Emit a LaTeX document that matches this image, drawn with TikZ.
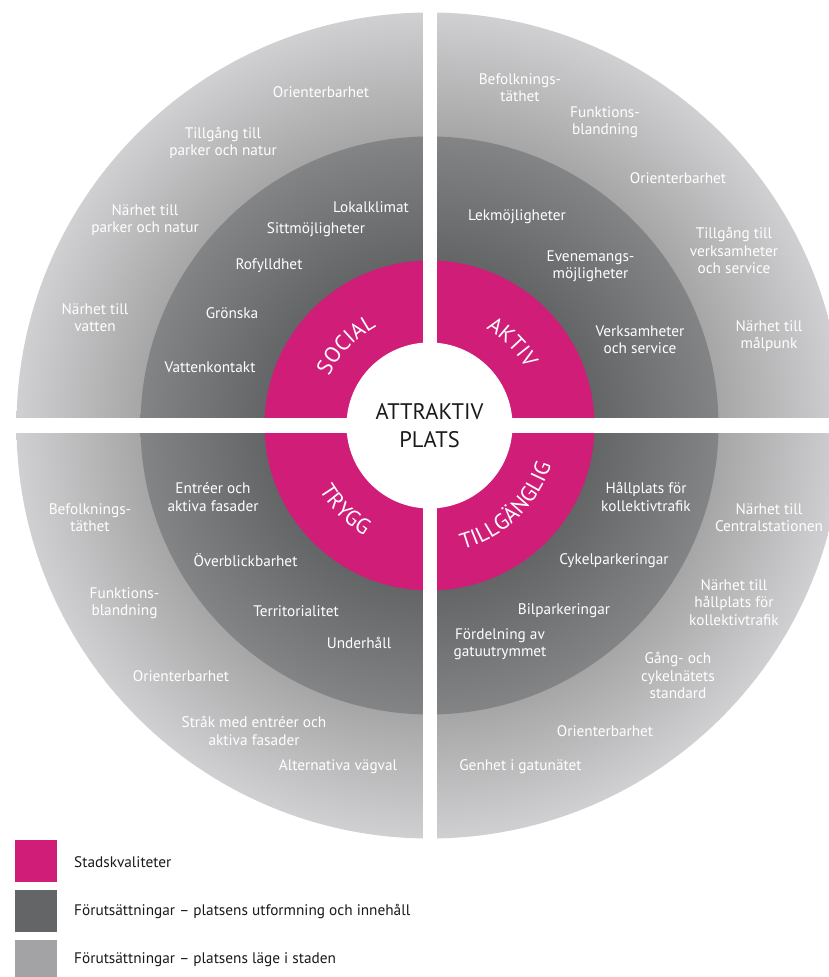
\documentclass[tikz,border=0pt]{standalone}
\usepackage{fontspec}
\setmainfont{PT Sans}
\usetikzlibrary{calc,decorations.text}
\definecolor{mag}{HTML}{D01D78}
\definecolor{dg1}{HTML}{646567}
\definecolor{dg2}{HTML}{838486}
\definecolor{lg1}{HTML}{A6A6A7}
\definecolor{lg2}{HTML}{D0D0D2}
\definecolor{legdark}{HTML}{646567}
\definecolor{leglight}{HTML}{A3A3A5}
\definecolor{ink}{HTML}{1A1A1A}
\pgfdeclareradialshading{lightring}{\pgfpoint{0bp}{0bp}}{color(0bp)=(lg1); color(17.49bp)=(lg1); color(25bp)=(lg2); color(50bp)=(lg2)}
\pgfdeclareradialshading{darkring}{\pgfpoint{0bp}{0bp}}{color(0bp)=(dg1); color(14.27bp)=(dg1); color(25bp)=(dg2); color(50bp)=(dg2)}
\newcommand\ringfont{\fontsize{15.3}{17.3}\selectfont}
\newcommand\magfont{\fontsize{22}{22}\selectfont}
\begin{document}
\begin{tikzpicture}[x=1pt,y=1pt,
  lbl/.style={text=white, font=\ringfont, align=center, inner sep=0pt},
  legtxt/.style={text=ink, font=\fontsize{15.3}{17}\selectfont, anchor=west, inner sep=0pt},
  legbox/.style={minimum size=42pt, inner sep=0pt, anchor=south west, outer sep=0pt},
  magtext/.style={decorate, decoration={text along path, text align=center, text={|\magfont\color{white}|#1}}}
]
\useasboundingbox (0,0) rectangle (829,977);
\clip (0,0) rectangle (829,977);
\coordinate (C) at (429.5,551.5);
% rings
\shade[shading=lightring] (C) circle[radius=413];
\shade[shading=darkring] (C) circle[radius=289];
\fill[mag] (C) circle[radius=165];
% white cross
\fill[white] (422.5,120) rectangle (436.5,980);
\fill[white] (0,544) rectangle (829,559);
\fill[white] (C) circle[radius=83];
% centre
\node[text=ink, font=\fontsize{22.5}{28}\selectfont, align=center, inner sep=0pt] (center) at (C) {ATTRAKTIV\\PLATS};
% magenta labels along arcs
\path[magtext={SOCIAL}] ($(C)+(186:112)$) arc[start angle=186, end angle=86, radius=112];
\path[magtext={AKTIV}] ($(C)+(95:112)$) arc[start angle=95, end angle=-5, radius=112];
\path[magtext={TRYGG}] ($(C)+(-185:128)$) arc[start angle=-185, end angle=-85, radius=128];
\path[magtext={TILLGÄNGLIG}] ($(C)+(-106:128)$) arc[start angle=-106, end angle=13, radius=128];
% top-left
\node[lbl] (tl1) at (321,885) {Orienterbarhet};
\node[lbl] (tl2) at (223,834) {Tillgång till\\parker och natur};
\node[lbl] (tl3) at (145,757) {Närhet till\\parker och natur};
\node[lbl] (tl4) at (95,659) {Närhet till\\vatten};
\node[lbl] (tl5) at (371,770) {Lokalklimat};
\node[lbl] (tl6) at (316,747) {Sittmöjligheter};
\node[lbl] (tl7) at (269,711) {Rofylldhet};
\node[lbl] (tl8) at (232,664) {Grönska};
\node[lbl] (tl9) at (210,610) {Vattenkontakt};
% top-right
\node[lbl] (tr1) at (520,889.5) {Befolknings-\\täthet};
\node[lbl] (tr2) at (605,855) {Funktions-\\blandning};
\node[lbl] (tr3) at (678,799) {Orienterbarhet};
\node[lbl] (tr4) at (734,726.5) {Tillgång till\\verksamheter\\och service};
\node[lbl] (tr5) at (769,641) {Närhet till\\målpunk};
\node[lbl] (tr6) at (517,760.5) {Lekmöjligheter};
\node[lbl] (tr7) at (590.5,711) {Evenemangs-\\möjligheter};
\node[lbl] (tr8) at (640,637) {Verksamheter\\och service};
% bottom-left
\node[lbl] (bl1) at (90,459) {Befolknings-\\täthet};
\node[lbl] (bl2) at (124.5,374) {Funktions-\\blandning};
\node[lbl] (bl3) at (181,301) {Orienterbarhet};
\node[lbl] (bl4) at (254,246) {Stråk med entréer och\\aktiva fasader};
\node[lbl] (bl5) at (338,210) {Alternativa vägval};
\node[lbl] (bl6) at (213,480) {Entréer och\\aktiva fasader};
\node[lbl] (bl7) at (245.5,417) {Överblickbarhet};
\node[lbl] (bl8) at (296,366) {Territorialitet};
\node[lbl] (bl9) at (359,334) {Underhåll};
% bottom-right
\node[lbl] (br1) at (646,480) {Hållplats för\\kollektivtrafik};
\node[lbl] (br2) at (769,459) {Närhet till\\Centralstationen};
\node[lbl] (br3) at (614,416.5) {Cykelparkeringar};
\node[lbl] (br4) at (734,374.5) {Närhet till\\hållplats för\\kollektivtrafik};
\node[lbl] (br5) at (564,366) {Bilparkeringar};
\node[lbl] (br6) at (500,333) {Fördelning av\\gatuutrymmet};
\node[lbl] (br7) at (678,301.5) {Gång- och\\cykelnätets\\standard};
\node[lbl] (br8) at (605,246) {Orienterbarhet};
\node[lbl] (br9) at (520.5,210) {Genhet i gatunätet};
% legend
\node[legbox, fill=mag] (k1) at (15,95) {};
\node[legbox, fill=legdark] (k2) at (15,45) {};
\node[legbox, fill=leglight] (k3) at (15,-5) {};
\node[legtxt] (t1) at (74,115.3) {Stadskvaliteter};
\node[legtxt] (t2) at (74,65.3) {Förutsättningar – platsens utformning och innehåll};
\node[legtxt] (t3) at (74,17) {Förutsättningar – platsens läge i staden};
\end{tikzpicture}
\end{document}
